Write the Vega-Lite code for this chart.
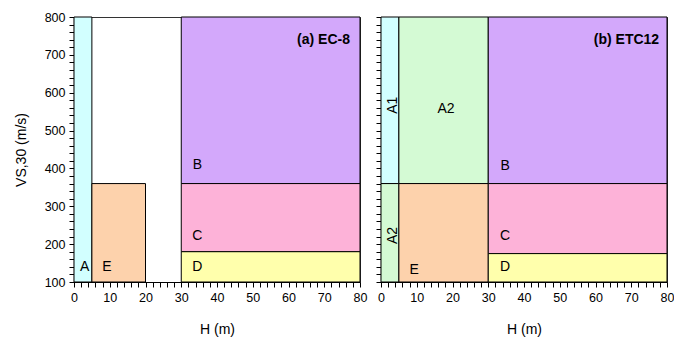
{
  "$schema": "https://vega.github.io/schema/vega-lite/v6.json",
  "background": "white",
  "padding": {"left": 13, "top": 10, "right": 0, "bottom": 5},
  "spacing": 7,
  "config": {
    "font": "Liberation Sans",
    "view": {"stroke": "#333", "strokeWidth": 1},
    "axis": {
      "grid": false,
      "domainColor": "black",
      "domainWidth": 1.2,
      "tickColor": "black",
      "tickSize": 5,
      "labelFont": "Liberation Sans",
      "labelFontSize": 12.5,
      "labelColor": "black",
      "titleFont": "Liberation Sans",
      "titleFontSize": 14,
      "titleFontWeight": "normal",
      "titleColor": "black",
      "labelOverlap": false,
      "labelFlush": false,
      "labelPadding": 4
    },
    "text": {"font": "Liberation Sans"}
  },
  "datasets": {
    "zones": [
      {"panel": "a", "zone": "A", "x1": 0, "x2": 5, "y1": 100, "y2": 800},
      {"panel": "a", "zone": "E", "x1": 5, "x2": 20, "y1": 100, "y2": 360},
      {"panel": "a", "zone": "B", "x1": 30, "x2": 80, "y1": 360, "y2": 800},
      {"panel": "a", "zone": "C", "x1": 30, "x2": 80, "y1": 180, "y2": 360},
      {"panel": "a", "zone": "D", "x1": 30, "x2": 80, "y1": 100, "y2": 180},
      {"panel": "b", "zone": "A1", "x1": 0, "x2": 5, "y1": 360, "y2": 800},
      {"panel": "b", "zone": "A2", "x1": 0, "x2": 5, "y1": 100, "y2": 360},
      {"panel": "b", "zone": "A2", "x1": 5, "x2": 30, "y1": 360, "y2": 800},
      {"panel": "b", "zone": "E", "x1": 5, "x2": 30, "y1": 100, "y2": 360},
      {"panel": "b", "zone": "B", "x1": 30, "x2": 80, "y1": 360, "y2": 800},
      {"panel": "b", "zone": "C", "x1": 30, "x2": 80, "y1": 175, "y2": 360},
      {"panel": "b", "zone": "D", "x1": 30, "x2": 80, "y1": 100, "y2": 175}
    ],
    "labels": [
      {"panel": "a", "text": "A", "x": 3, "y": 140, "dir": "h"},
      {"panel": "a", "text": "E", "x": 9.2, "y": 140, "dir": "h"},
      {"panel": "a", "text": "B", "x": 34.5, "y": 408, "dir": "h"},
      {"panel": "a", "text": "C", "x": 34.5, "y": 222, "dir": "h"},
      {"panel": "a", "text": "D", "x": 34.5, "y": 140, "dir": "h"},
      {"panel": "b", "text": "A1", "x": 3.4, "y": 567, "dir": "v"},
      {"panel": "b", "text": "A2", "x": 18.2, "y": 556, "dir": "h"},
      {"panel": "b", "text": "A2", "x": 3.4, "y": 223, "dir": "v"},
      {"panel": "b", "text": "E", "x": 9.3, "y": 133, "dir": "h"},
      {"panel": "b", "text": "B", "x": 34.7, "y": 406, "dir": "h"},
      {"panel": "b", "text": "C", "x": 34.7, "y": 222, "dir": "h"},
      {"panel": "b", "text": "D", "x": 34.7, "y": 140, "dir": "h"}
    ],
    "titles": [
      {"panel": "a", "text": "(a) EC-8", "x": 77.2, "y": 740},
      {"panel": "b", "text": "(b) ETC12", "x": 77.8, "y": 740}
    ]
  },
  "hconcat": [
    {
      "width": 286,
      "height": 265,
      "resolve": {"axis": {"x": "independent", "y": "independent"}},
      "layer": [
        {
          "data": {"name": "zones"},
          "transform": [{"filter": "datum.panel === 'a'"}],
          "mark": {"type": "rect", "stroke": "black", "strokeWidth": 1},
          "encoding": {
            "x": {"field": "x1", "type": "quantitative", "scale": {"domain": [0, 80], "nice": false},
              "axis": {"orient": "bottom", "title": "H (m)", "titlePadding": 19,
                "values": [0,2,4,6,8,10,12,14,16,18,20,22,24,26,28,30,32,34,36,38,40,42,44,46,48,50,52,54,56,58,60,62,64,66,68,70,72,74,76,78,80],
                "labelExpr": "datum.value % 10 === 0 ? datum.label : ''",
                "encode": {"ticks": {"update": {"y": {"signal": "datum.value % 10 === 0 ? -4 : -3"}, "y2": {"signal": "datum.value % 10 === 0 ? 5 : 0"}}}}}},
            "x2": {"field": "x2"},
            "y": {"field": "y1", "type": "quantitative", "scale": {"domain": [100, 800], "nice": false},
              "axis": {"orient": "left", "title": "VS,30 (m/s)", "titlePadding": 16,
                "values": [100,120,140,160,180,200,220,240,260,280,300,320,340,360,380,400,420,440,460,480,500,520,540,560,580,600,620,640,660,680,700,720,740,760,780,800],
                "labelExpr": "datum.value % 100 === 0 ? datum.label : ''",
                "encode": {"ticks": {"update": {"x": {"signal": "datum.value % 100 === 0 ? 4 : 3"}, "x2": {"signal": "datum.value % 100 === 0 ? -5 : 0"}}}}}},
            "y2": {"field": "y2"},
            "fill": {"field": "zone", "type": "nominal", "legend": null,
              "scale": {"domain": ["A", "A1", "A2", "B", "C", "D", "E"],
                "range": ["#d2ffff", "#d2ffff", "#d4fad4", "#d3a8fb", "#fdb2d8", "#ffffac", "#fdd2ac"]}}
          }
        },
        {
          "data": {"name": "labels"},
          "transform": [{"filter": "datum.panel === 'a' && datum.dir === 'h'"}],
          "mark": {"type": "text", "fontSize": 14, "color": "black", "align": "center", "baseline": "middle"},
          "encoding": {
            "x": {"field": "x", "type": "quantitative", "axis": null},
            "y": {"field": "y", "type": "quantitative", "axis": null},
            "text": {"field": "text"}
          }
        },
        {
          "data": {"name": "titles"},
          "transform": [{"filter": "datum.panel === 'a'"}],
          "mark": {"type": "text", "fontSize": 14, "fontWeight": "bold", "color": "black", "align": "right", "baseline": "middle"},
          "encoding": {
            "x": {"field": "x", "type": "quantitative", "axis": null},
            "y": {"field": "y", "type": "quantitative", "axis": null},
            "text": {"field": "text"}
          }
        }
      ]
    },
    {
      "width": 286,
      "height": 265,
      "resolve": {"axis": {"x": "independent", "y": "independent"}},
      "layer": [
        {
          "data": {"name": "zones"},
          "transform": [{"filter": "datum.panel === 'b'"}],
          "mark": {"type": "rect", "stroke": "black", "strokeWidth": 1},
          "encoding": {
            "x": {"field": "x1", "type": "quantitative", "scale": {"domain": [0, 80], "nice": false},
              "axis": {"orient": "bottom", "title": "H (m)", "titlePadding": 19,
                "values": [0,2,4,6,8,10,12,14,16,18,20,22,24,26,28,30,32,34,36,38,40,42,44,46,48,50,52,54,56,58,60,62,64,66,68,70,72,74,76,78,80],
                "labelExpr": "datum.value % 10 === 0 ? datum.label : ''",
                "encode": {"ticks": {"update": {"y": {"signal": "datum.value % 10 === 0 ? -4 : -3"}, "y2": {"signal": "datum.value % 10 === 0 ? 5 : 0"}}}}}},
            "x2": {"field": "x2"},
            "y": {"field": "y1", "type": "quantitative", "scale": {"domain": [100, 800], "nice": false},
              "axis": {"orient": "left", "title": null, "labels": false,
                "values": [100,120,140,160,180,200,220,240,260,280,300,320,340,360,380,400,420,440,460,480,500,520,540,560,580,600,620,640,660,680,700,720,740,760,780,800],
                "encode": {"ticks": {"update": {"x": {"signal": "datum.value % 100 === 0 ? 4 : 3"}, "x2": {"signal": "datum.value % 100 === 0 ? -5 : 0"}}}}}},
            "y2": {"field": "y2"},
            "fill": {"field": "zone", "type": "nominal", "legend": null,
              "scale": {"domain": ["A", "A1", "A2", "B", "C", "D", "E"],
                "range": ["#d2ffff", "#d2ffff", "#d4fad4", "#d3a8fb", "#fdb2d8", "#ffffac", "#fdd2ac"]}}
          }
        },
        {
          "data": {"name": "labels"},
          "transform": [{"filter": "datum.panel === 'b' && datum.dir === 'h'"}],
          "mark": {"type": "text", "fontSize": 14, "color": "black", "align": "center", "baseline": "middle"},
          "encoding": {
            "x": {"field": "x", "type": "quantitative", "axis": null},
            "y": {"field": "y", "type": "quantitative", "axis": null},
            "text": {"field": "text"}
          }
        },
        {
          "data": {"name": "labels"},
          "transform": [{"filter": "datum.panel === 'b' && datum.dir === 'v'"}],
          "mark": {"type": "text", "fontSize": 14, "color": "black", "align": "center", "baseline": "middle", "angle": 270},
          "encoding": {
            "x": {"field": "x", "type": "quantitative", "axis": null},
            "y": {"field": "y", "type": "quantitative", "axis": null},
            "text": {"field": "text"}
          }
        },
        {
          "data": {"name": "titles"},
          "transform": [{"filter": "datum.panel === 'b'"}],
          "mark": {"type": "text", "fontSize": 14, "fontWeight": "bold", "color": "black", "align": "right", "baseline": "middle"},
          "encoding": {
            "x": {"field": "x", "type": "quantitative", "axis": null},
            "y": {"field": "y", "type": "quantitative", "axis": null},
            "text": {"field": "text"}
          }
        }
      ]
    }
  ]
}
